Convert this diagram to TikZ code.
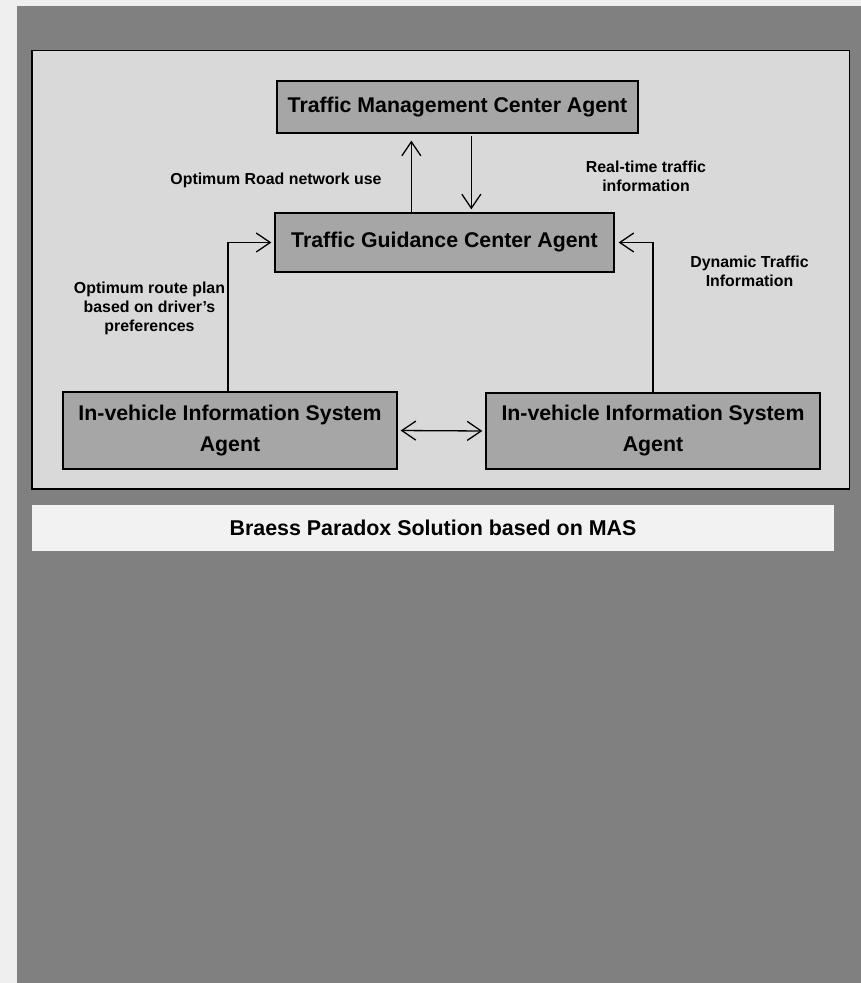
\documentclass[tikz,border=0pt]{standalone}
\usepackage{fontspec}
\setmainfont{Liberation Sans}
\usetikzlibrary{arrows.meta}
\definecolor{bgpage}{HTML}{EFEFEF}
\definecolor{panel}{HTML}{808080}
\definecolor{inner}{HTML}{D9D9D9}
\definecolor{boxfill}{HTML}{A6A6A6}
\definecolor{capfill}{HTML}{F2F2F2}
\tikzset{
  agentbox/.style={draw=black, line width=1.3pt, fill=boxfill, inner sep=0pt, align=center,
    font={\fontsize{21.3}{31}\selectfont\bfseries}},
  lbl/.style={inner sep=0pt, align=center, font={\fontsize{15.9}{19}\selectfont\bfseries}},
  arr/.style={line width=1.3pt, -{Straight Barb[length=14pt,width=19pt,line width=1.3pt]}},
  darr/.style={line width=1.3pt, {Straight Barb[length=14pt,width=19pt,line width=1.3pt]}-{Straight Barb[length=14pt,width=19pt,line width=1.3pt]}}
}
\begin{document}
\begin{tikzpicture}[x=1pt,y=-1pt]
\useasboundingbox (0,0) rectangle (861,983);
\fill[bgpage] (0,0) rectangle (861,983);
\fill[panel] (17,6) rectangle (861,983);
\draw[fill=inner, line width=1.5pt] (32,50.5) rectangle (849.5,489);
\node[fill=capfill, minimum width=802pt, minimum height=46pt, inner sep=0pt,
  font={\fontsize{21.4}{26}\selectfont\bfseries}] (cap) at (433,528) {Braess Paradox Solution based on MAS};

\node[agentbox, minimum width=361pt, minimum height=52pt] (tmc) at (457.5,107) {Traffic Management Center Agent};
\node[agentbox, minimum width=339pt, minimum height=59pt] (tgc) at (444.5,242.5) {Traffic Guidance Center Agent};
\node[agentbox, minimum width=334pt, minimum height=77pt] (livis) at (230,430.5) {In-vehicle Information System\\Agent};
\node[agentbox, minimum width=334pt, minimum height=76pt] (rivis) at (653,431) {In-vehicle Information System\\Agent};

\node[lbl] (l1) at (276,180) {Optimum Road network use};
\node[lbl] (l2) at (646,176.5) {Real-time traffic\\information};
\node[lbl] (l3) at (749.5,271.5) {Dynamic Traffic\\Information};
\node[lbl] (l4) at (149.5,308.5) {Optimum route plan\\based on driver’s\\preferences};

\draw[arr, shorten >=7pt] ([xshift=137pt]tgc.north west) -- ([xshift=135pt]tmc.south west);
\draw[arr, shorten <=2pt, shorten >=3pt] ([xshift=195pt]tmc.south west) -- ([xshift=197pt]tgc.north west);
\draw[arr, shorten >=3pt] ([xshift=-2pt]livis.north) |- (tgc.west);
\draw[arr, shorten >=4pt] (rivis.north) |- (tgc.east);
\draw[darr, shorten <=3pt, shorten >=3pt] (livis.east) -- (rivis.west);
\end{tikzpicture}
\end{document}
